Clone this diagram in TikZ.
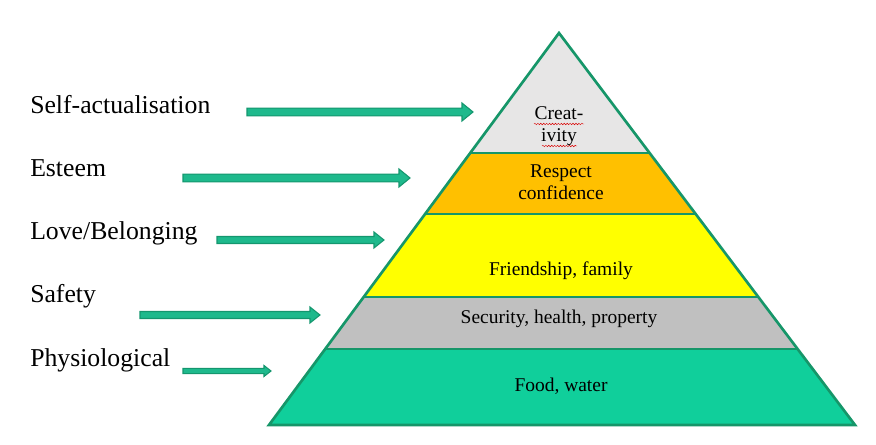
\documentclass[tikz,border=0pt]{standalone}
\usepackage{fontspec}
\setmainfont{Liberation Serif}
\usetikzlibrary{calc,decorations.pathmorphing}
\definecolor{pyline}{RGB}{22,150,105}
\definecolor{foodfill}{RGB}{16,207,155}
\definecolor{secfill}{RGB}{192,192,192}
\definecolor{lovefill}{RGB}{255,255,0}
\definecolor{estfill}{RGB}{255,192,0}
\definecolor{topfill}{RGB}{231,230,230}
\definecolor{arrfill}{RGB}{30,185,140}
\definecolor{arrline}{RGB}{20,150,110}
\tikzset{
  lbl/.style={anchor=base west,inner sep=0pt,font=\fontsize{19.3}{22}\selectfont},
  inlbl/.style={anchor=base,inner sep=0pt,align=center,font=\fontsize{14.6}{16.8}\selectfont},
  barrow/.style={fill=arrfill,draw=arrline,line width=0.8pt,line join=miter},
  sep/.style={draw=pyline,line width=1.6pt},
  squiggle/.style={draw=red!85!black,line width=0.35pt,decorate,decoration={snake,amplitude=0.55pt,segment length=2.2pt}}
}
\newcommand\blockarrowdraw[6]{%
  \draw[barrow] (#1,#3-#4) -- (#2-#6,#3-#4) -- (#2-#6,#3-#5) -- (#2,#3)
    -- (#2-#6,#3+#5) -- (#2-#6,#3+#4) -- (#1,#3+#4) -- cycle;}
\begin{document}
\begin{tikzpicture}[x=0.75pt,y=-0.75pt]
\useasboundingbox (0,0) rectangle (876,445);
% pyramid corners
\coordinate (A) at (559,33);
\coordinate (BL) at (269,425);
\coordinate (BR) at (855,425);
\coordinate (L1) at ($(A)!0.3061!(BL)$);
\coordinate (R1) at ($(A)!0.3061!(BR)$);
\coordinate (L2) at ($(A)!0.4617!(BL)$);
\coordinate (R2) at ($(A)!0.4617!(BR)$);
\coordinate (L3) at ($(A)!0.6735!(BL)$);
\coordinate (R3) at ($(A)!0.6735!(BR)$);
\coordinate (L4) at ($(A)!0.8061!(BL)$);
\coordinate (R4) at ($(A)!0.8061!(BR)$);
% layers
\fill[topfill] (A) -- (L1) -- (R1) -- cycle;
\fill[estfill] (L1) -- (L2) -- (R2) -- (R1) -- cycle;
\fill[lovefill] (L2) -- (L3) -- (R3) -- (R2) -- cycle;
\fill[secfill] (L3) -- (L4) -- (R4) -- (R3) -- cycle;
\fill[foodfill] (L4) -- (BL) -- (BR) -- (R4) -- cycle;
\draw[sep] (L1) -- (R1);
\draw[sep] (L2) -- (R2);
\draw[sep] (L3) -- (R3);
\draw[sep] (L4) -- (R4);
\draw[pyline,line width=2pt,line join=miter] (A) -- (BL) -- (BR) -- cycle;
% pyramid texts
\node[inlbl] (creat) at (559,142) {Creat-\\ivity};
\draw[squiggle] (534,124) -- (584,124);
\draw[squiggle] (542,146) -- (577,146);
\node[inlbl] (resp) at (561,200) {Respect\\confidence};
\node[inlbl] (friend) at (561,276) {Friendship, family};
\node[inlbl] (secur) at (559,324) {Security, health, property};
\node[inlbl] (food) at (561,392) {Food, water};
% left labels
\node[lbl] (self) at (30,114) {Self-actualisation};
\node[lbl] (est) at (30,177) {Esteem};
\node[lbl] (love) at (30,240) {Love/Belonging};
\node[lbl] (safe) at (30,303) {Safety};
\node[lbl] (phys) at (30,367) {Physiological};
% arrows
\blockarrowdraw{247}{473}{112}{3.8}{9}{11}
\blockarrowdraw{183}{410}{178}{3.8}{9}{11}
\blockarrowdraw{217}{384}{240}{3.5}{8}{10}
\blockarrowdraw{140}{320}{315}{3.5}{8}{10}
\blockarrowdraw{183}{271}{371}{2.6}{5.5}{7}
\end{tikzpicture}
\end{document}
